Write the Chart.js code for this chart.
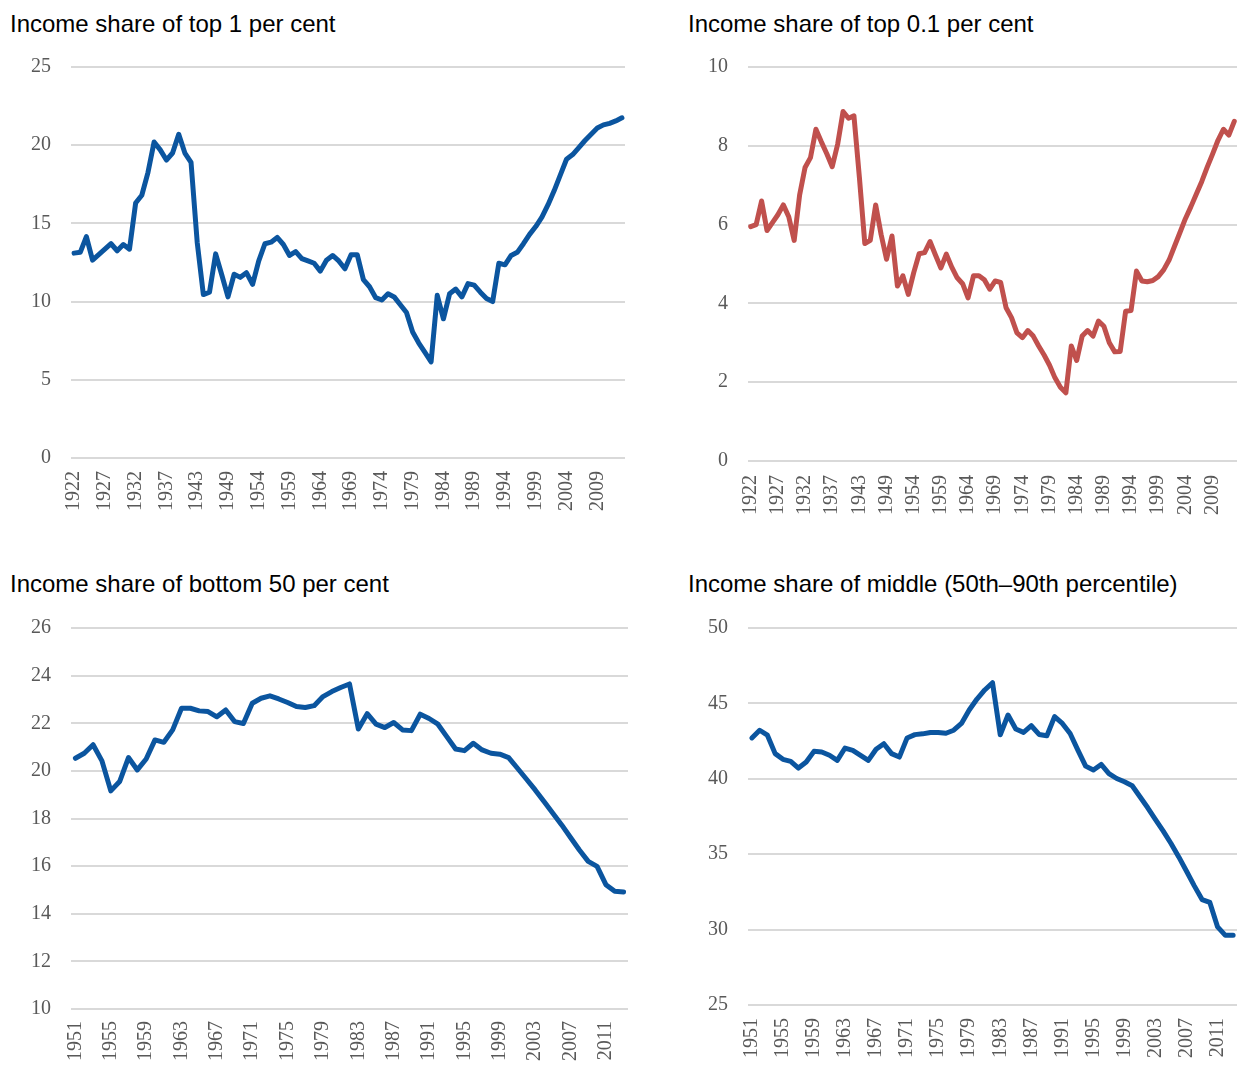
<!DOCTYPE html>
<html>
<head>
<meta charset="utf-8">
<script src="https://cdn.jsdelivr.net/npm/chart.js@4.4.0/dist/chart.umd.min.js"></script>
<style>
  body { margin: 0; background: #fff; width: 1241px; height: 1066px; position: relative; overflow: hidden; }
  .title { position: absolute; z-index: 2; font-family: "Liberation Sans", Arial, sans-serif; font-size: 24px; line-height: 24px; color: #000; white-space: nowrap; }
  canvas { position: absolute; }
</style>
</head>
<body>
<div class="title" style="left:10px; top:12px;">Income share of top 1 per cent</div>
<div class="title" style="left:688px; top:12px;">Income share of top 0.1 per cent</div>
<div class="title" style="left:10px; top:572px;">Income share of bottom 50 per cent</div>
<div class="title" style="left:688px; top:572px;">Income share of middle (50th–90th percentile)</div>

<canvas id="top1" width="640" height="500" style="left:0; top:40px;"></canvas>
<canvas id="top01" width="564" height="500" style="left:677px; top:40px;"></canvas>
<canvas id="bottom50" width="640" height="466" style="left:0; top:600px;"></canvas>
<canvas id="middle40" width="564" height="466" style="left:677px; top:600px;"></canvas>

<script>
// years for the top-income series (two war years missing in the source)
const topYears = [];
for (let y = 1922; y <= 2013; y++) {
  if (y !== 1942 && y !== 1948) topYears.push(String(y));
}
const distYears = [];
for (let y = 1951; y <= 2013; y++) distYears.push(String(y));

const top1Share = [
  13.1, 13.15, 14.15, 12.65, 13.0, 13.35, 13.7, 13.25, 13.65, 13.35,
  16.3, 16.8, 18.25, 20.2, 19.7, 19.05, 19.5, 20.7, 19.5, 18.9,
  13.8, 10.45, 10.6, 13.05, 11.7, 10.3, 11.75, 11.55, 11.85, 11.1,
  12.6, 13.7, 13.8, 14.1, 13.65, 12.95, 13.2, 12.75, 12.6, 12.45,
  11.95, 12.65, 12.95, 12.6, 12.1, 13.0, 13.0, 11.4, 10.95, 10.25,
  10.1, 10.5, 10.3, 9.8, 9.3, 8.05, 7.35, 6.75, 6.15, 10.4,
  8.9, 10.5, 10.8, 10.3, 11.15, 11.05, 10.6, 10.2, 10.0, 12.45,
  12.35, 12.95, 13.15, 13.7, 14.3, 14.8, 15.4, 16.2, 17.1, 18.1,
  19.1, 19.4, 19.85, 20.3, 20.7, 21.1, 21.3, 21.4, 21.55, 21.75
];

const top01Share = [
  5.95, 6.0, 6.6, 5.85, 6.05, 6.25, 6.5, 6.2, 5.6, 6.75,
  7.45, 7.7, 8.42, 8.1, 7.8, 7.47, 8.04, 8.87, 8.7, 8.76,
  7.2, 5.52, 5.6, 6.5, 5.75, 5.12, 5.71, 4.44, 4.7, 4.23,
  4.78, 5.26, 5.29, 5.57, 5.23, 4.9, 5.25, 4.92, 4.65, 4.5,
  4.14, 4.7, 4.7, 4.6, 4.36, 4.57, 4.53, 3.89, 3.64, 3.25,
  3.13, 3.31, 3.17, 2.92, 2.69, 2.43, 2.11, 1.87, 1.73, 2.92,
  2.55, 3.17, 3.31, 3.17, 3.55, 3.42, 3.0, 2.77, 2.78, 3.8,
  3.82, 4.82, 4.57, 4.55, 4.58, 4.68, 4.85, 5.1, 5.45, 5.8,
  6.15, 6.45, 6.77, 7.09, 7.45, 7.79, 8.14, 8.42, 8.27, 8.62
];

const bottom50Share = [
  20.53, 20.74, 21.1, 20.42, 19.16, 19.55, 20.56, 20.04, 20.5, 21.3,
  21.2, 21.72, 22.63, 22.63, 22.52, 22.49, 22.27, 22.56, 22.07, 21.99,
  22.84, 23.05, 23.15, 23.02, 22.87, 22.7, 22.66, 22.74, 23.12, 23.33,
  23.5, 23.65, 21.76, 22.4, 21.96, 21.82, 22.03, 21.72, 21.69, 22.38,
  22.2, 21.96, 21.44, 20.92, 20.85, 21.16, 20.88, 20.74, 20.7, 20.56,
  20.11, 19.66, 19.2, 18.71, 18.22, 17.73, 17.2, 16.68, 16.2, 15.99,
  15.22, 14.94, 14.91
];

const middle40Share = [
  42.71, 43.22, 42.89, 41.67, 41.29, 41.16, 40.71, 41.11, 41.82, 41.78,
  41.56, 41.22, 42.04, 41.89, 41.56, 41.22, 41.96, 42.33, 41.67, 41.44,
  42.71, 42.93, 42.98, 43.07, 43.07, 43.02, 43.22, 43.67, 44.56, 45.29,
  45.89, 46.37, 42.92, 44.23, 43.3, 43.08, 43.52, 42.94, 42.85, 44.12,
  43.67, 43.0, 41.9, 40.84, 40.58, 40.95, 40.35, 40.02, 39.8, 39.54,
  38.81, 38.08, 37.3, 36.53, 35.71, 34.82, 33.87, 32.9, 31.99, 31.8,
  30.18, 29.62, 29.62
];

const blue = "#0b559f";
const red = "#c0504d";
const tickFont = { family: "'Liberation Serif', 'Times New Roman', serif", size: 20 };

function makeChart(id, labels, values, color, o) {
  return new Chart(document.getElementById(id), {
    type: "line",
    data: {
      labels: labels,
      datasets: [{
        data: values,
        borderColor: color,
        borderWidth: 5,
        pointRadius: 0,
        tension: 0,
        borderJoinStyle: "round",
        borderCapStyle: "round",
      }],
    },
    options: {
      responsive: false,
      animation: false,
      events: [],
      layout: { padding: { top: o.padTop, right: o.padRight, bottom: 0, left: 0 } },
      plugins: { legend: { display: false }, tooltip: { enabled: false } },
      scales: {
        x: {
          offset: true,
          grid: { display: false, drawTicks: false },
          border: { display: false },
          // fixed axis box so the plot area lines up with the picture
          afterFit: (s) => { s.height = o.xHeight; s.paddingLeft = 0; s.paddingRight = 0; },
          ticks: {
            autoSkip: false,
            minRotation: 90,
            maxRotation: 90,
            padding: o.xPad,
            color: "#595959",
            font: tickFont,
            callback: function (v, i) { return i % o.every === 0 ? this.getLabelForValue(v) : null; },
          },
        },
        y: {
          min: o.min,
          max: o.max,
          grid: { color: "#d9d9d9", lineWidth: 2, drawTicks: false },
          border: { display: false },
          afterFit: (s) => { s.width = o.yWidth; s.paddingTop = 0; s.paddingBottom = 0; },
          ticks: {
            stepSize: o.step,
            padding: 20,
            color: "#595959",
            font: tickFont,
          },
        },
      },
    },
  });
}

function drawAll() {
  makeChart("top1", topYears, top1Share, blue,
    { min: 0, max: 25, step: 5, every: 5, padTop: 27, padRight: 15, xHeight: 82, yWidth: 71, xPad: 13 });
  makeChart("top01", topYears, top01Share, red,
    { min: 0, max: 10, step: 2, every: 5, padTop: 27, padRight: 4, xHeight: 79, yWidth: 71, xPad: 14 });
  makeChart("bottom50", distYears, bottom50Share, blue,
    { min: 10, max: 26, step: 2, every: 4, padTop: 28, padRight: 12, xHeight: 57, yWidth: 71, xPad: 12 });
  makeChart("middle40", distYears, middle40Share, blue,
    { min: 25, max: 50, step: 5, every: 4, padTop: 28, padRight: 4, xHeight: 61, yWidth: 71, xPad: 13 });
}

document.fonts.load("20px 'Liberation Serif'").then(drawAll, drawAll);
</script>
</body>
</html>
